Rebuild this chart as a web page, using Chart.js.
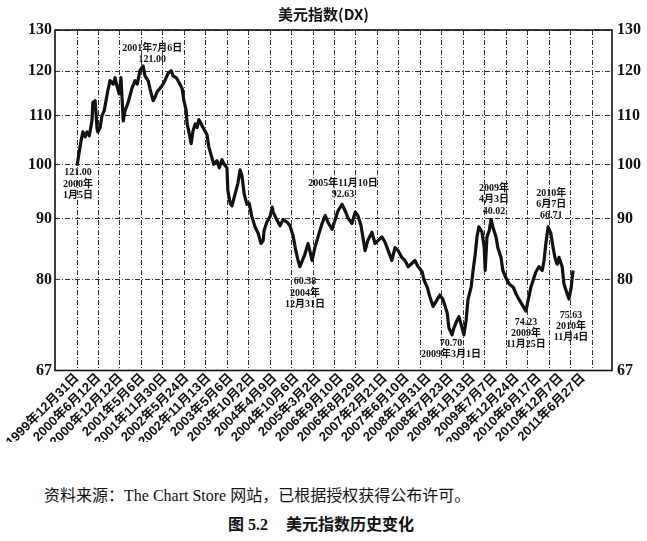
<!DOCTYPE html>
<html>
<head>
<meta charset="utf-8">
<script src="https://cdn.jsdelivr.net/npm/chart.js@4.4.1/dist/chart.umd.min.js"></script>
<style>
  body { margin: 0; background: #fff; }
  #wrap { position: relative; width: 647px; height: 541px; }
  #box { position: absolute; left: 0; top: 0; width: 647px; height: 442px; }
  .cap { position: absolute; white-space: nowrap; color: #111; }
  #source { left: 44px; top: 482px; font: 16px "Liberation Serif", "Noto Sans CJK SC"; }
  #figure { left: 228px; top: 511px; font: bold 16px "Liberation Serif", "Noto Sans CJK SC"; }
</style>
</head>
<body>
<div id="wrap">
  <div id="box"><canvas id="dxChart"></canvas></div>
  <div class="cap" id="source">资料来源：The Chart Store 网站，已根据授权获得公布许可。</div>
  <div class="cap" id="figure">图 5.2<span style="margin-left:18px">美元指数历史变化</span></div>
</div>
<script>
// decimal years and index values
const years = [
  2000.00, 2000.04, 2000.09, 2000.13, 2000.18, 2000.22, 2000.27, 2000.33, 2000.35, 2000.40,
  2000.44, 2000.46, 2000.51, 2000.55, 2000.60, 2000.64, 2000.68, 2000.73, 2000.80, 2000.84,
  2000.88, 2000.93, 2000.97, 2001.02, 2001.06, 2001.13, 2001.21, 2001.28, 2001.33, 2001.39,
  2001.46, 2001.50, 2001.57, 2001.61, 2001.68, 2001.72, 2001.77, 2001.83, 2001.90, 2001.94,
  2002.01, 2002.08, 2002.12, 2002.19, 2002.23, 2002.32, 2002.36, 2002.41, 2002.43, 2002.47,
  2002.52, 2002.56, 2002.61, 2002.65, 2002.69, 2002.76, 2002.80, 2002.87, 2002.91, 2002.98,
  2003.02, 2003.09, 2003.14, 2003.20, 2003.25, 2003.31,
  2003.33, 2003.38, 2003.42, 2003.49, 2003.55, 2003.60, 2003.64, 2003.69, 2003.75, 2003.80,
  2003.86, 2003.93, 2004.00, 2004.06, 2004.11, 2004.13, 2004.19, 2004.26, 2004.31, 2004.33,
  2004.42, 2004.48, 2004.55, 2004.64, 2004.70, 2004.77, 2004.83, 2004.88,
  2004.92, 2005.03, 2005.10, 2005.19, 2005.25, 2005.32, 2005.41, 2005.48, 2005.54, 2005.63,
  2005.70, 2005.76, 2005.85, 2005.92, 2005.98, 2006.07, 2006.14, 2006.20, 2006.27, 2006.31,
  2006.36, 2006.42, 2006.51, 2006.58, 2006.65, 2006.73, 2006.80, 2006.87, 2006.95, 2007.02,
  2007.09, 2007.17, 2007.24, 2007.31, 2007.40, 2007.46, 2007.53, 2007.62, 2007.66, 2007.73,
  2007.79, 2007.86, 2007.95, 2008.01, 2008.08, 2008.17, 2008.21, 2008.28, 2008.32, 2008.39,
  2008.43, 2008.50, 2008.54, 2008.59, 2008.63, 2008.70, 2008.74, 2008.79, 2008.83, 2008.87,
  2008.94, 2008.99, 2009.01, 2009.05, 2009.10, 2009.14, 2009.18, 2009.25, 2009.29, 2009.36,
  2009.40, 2009.47, 2009.54, 2009.63, 2009.69, 2009.76, 2009.85, 2009.91, 2009.96, 2010.02,
  2010.07, 2010.13, 2010.20, 2010.27, 2010.31, 2010.35, 2010.40, 2010.46, 2010.51, 2010.55,
  2010.60, 2010.64, 2010.71, 2010.75, 2010.82, 2010.86, 2010.91, 2010.95
];
const dxIndex = [
  99.8, 102, 104.8, 106.6, 105.6, 106.6, 105.8, 108.9, 112.9, 113.3,
  107.5, 106.6, 107.5, 110, 111.1, 113.3, 115.5, 117.8, 117, 118.5,
  116.6, 114.8, 118.5, 108.9, 111.1, 112.9, 116, 117.8, 117, 120.1,
  121.2, 118.9, 117.8, 116, 113.3, 114, 115.3, 116, 117, 117.8,
  119.5, 120.1, 118.9, 118.5, 117.8, 116, 113.3, 111.1, 108.3, 106.6,
  104.2, 106.8, 108.3, 107.5, 109.2, 107.9, 107.2, 106, 103.5, 101.3,
  100.1, 100.8, 99.4, 101, 100.1, 99.4,
  95.1, 92.8, 92.3, 94.5, 96.4, 99, 98, 94.5, 92.6, 92.8,
  90.4, 88.6, 87.5, 85.8, 86.3, 88, 89.4, 90.4, 92.1, 91.2,
  89.7, 88.8, 89.9, 89.4, 88.8, 87.1, 84.6, 83,
  82, 84, 85.8, 83, 85.1, 86.9, 89.2, 90.6, 89.4, 88.2,
  89.9, 91.4, 92.6, 91.4, 90.2, 89.2, 91.2, 90.6, 88.8, 86.9,
  84.6, 86.3, 87.7, 85.8, 86.3, 86.9, 86, 84.6, 83, 85.1,
  84.6, 83.5, 83, 82, 82.6, 83, 82, 81.2, 79.9, 78.8,
  77.3, 75.9, 76.9, 77.6, 76.9, 75, 72.8, 71.8, 72.8, 73.9,
  74.4, 72.8, 71.8, 73.9, 76.9, 78.8, 81.2, 84, 86.9, 88.6,
  87.7, 85.1, 81.4, 86.9, 88, 89.9, 88.6, 86.9, 85.1, 83.5,
  81.4, 80.2, 79.3, 78.8, 77.8, 76.9, 75.9, 75.2, 76.9, 78.8,
  79.9, 81.2, 82, 81.4, 83, 85.8, 88.6, 87.5, 85.1, 83.5,
  82.4, 83.5, 82, 79.3, 77.8, 77, 78.8, 81.4
];
const yTicks = [67, 80, 90, 100, 110, 120, 130];
const dateLabels = [
  '1999年12月31日', '2000年6月12日', '2000年12月12日', '2001年5月6日', '2001年11月30日',
  '2002年5月24日', '2002年11月13日', '2003年5月6日', '2003年10月2日', '2004年4月9日',
  '2004年10月6日', '2005年3月2日', '2006年9月10日', '2006年8月29日', '2007年2月21日',
  '2007年6月10日', '2008年1月31日', '2008年7月23日', '2009年1月13日', '2009年7月7日',
  '2009年12月24日', '2010年6月17日', '2010年12月7日', '2011年6月27日'
];
// callouts printed next to the highs and lows (ox/oy: text offset in px)
const notes = [
  { lines: ['121.00', '2000年', '1月5日'], year: 2000.00, value: 99.8, ox: 1, oy: 7 },
  { lines: ['2001年7月6日', '121.00'], year: 2001.46, value: 121.2, ox: 9, oy: -18 },
  { lines: ['60.38', '2004年', '12月31日'], year: 2004.92, value: 82, ox: 5, oy: 15 },
  { lines: ['2005年11月10日', '92.63'], year: 2005.85, value: 92.6, ox: 1, oy: -21 },
  { lines: ['70.70', '2009年3月1日'], year: 2008.28, value: 71.8, ox: -1, oy: 8 },
  { lines: ['2009年', '4月3日', '40.02'], year: 2009.14, value: 89.9, ox: 3, oy: -31 },
  { lines: ['2010年', '6月7日', '66.71'], year: 2010.40, value: 88.6, ox: 3, oy: -34 },
  { lines: ['74.23', '2009年', '11月25日'], year: 2009.91, value: 75.2, ox: 0, oy: 11 },
  { lines: ['75.63', '2010年', '11月4日'], year: 2010.86, value: 77, ox: 2, oy: 16 }
];

const xMin = 1999.514, xMax = 2011.81;
const gridStep = 0.4737, labelStep = 0.4857;
const dash = [5, 2, 1, 2];
const tickFont = { family: '"Liberation Serif", serif', size: 16, weight: 'bold' };

const framePlugin = {
  id: 'frame',
  afterDraw(chart) {
    const { ctx, chartArea: a } = chart;
    ctx.save();
    ctx.strokeStyle = '#111';
    ctx.lineWidth = 1.6;
    ctx.strokeRect(a.left, a.top, a.right - a.left, a.bottom - a.top);
    ctx.restore();
  }
};

const notesPlugin = {
  id: 'notes',
  afterDatasetsDraw(chart) {
    const { ctx, scales } = chart;
    ctx.save();
    ctx.fillStyle = '#111';
    ctx.font = 'bold 10px "Liberation Serif", "Noto Sans CJK SC"';
    ctx.textAlign = 'center';
    ctx.textBaseline = 'middle';
    notes.forEach(n => {
      const px = scales.x.getPixelForValue(n.year) + n.ox;
      const py = scales.y.getPixelForValue(n.value) + n.oy;
      n.lines.forEach((t, i) => ctx.fillText(t, px, py + i * 11.3));
    });
    ctx.restore();
  }
};

new Chart(document.getElementById('dxChart'), {
  type: 'line',
  data: {
    datasets: [{
      data: years.map((t, i) => ({ x: t, y: dxIndex[i] })),
      borderColor: '#111',
      borderWidth: 3.2,
      pointRadius: 0,
      tension: 0,
      borderJoinStyle: 'round',
      xAxisID: 'x',
      yAxisID: 'y'
    }]
  },
  options: {
    responsive: true,
    maintainAspectRatio: false,
    animation: false,
    devicePixelRatio: 1,
    layout: { padding: 0 },
    plugins: {
      legend: { display: false },
      tooltip: { enabled: false },
      title: {
        display: true,
        text: '美元指数(DX)',
        color: '#111',
        font: { family: '"Noto Sans CJK SC"', size: 15, weight: 'bold' },
        padding: { top: 5, bottom: 7 }
      }
    },
    scales: {
      x: {
        type: 'linear', min: xMin, max: xMax,
        afterBuildTicks: s => { s.ticks = Array.from({ length: 25 }, (_, i) => ({ value: 2000 + i * gridStep })); },
        ticks: { display: false },
        grid: { color: '#333', lineWidth: 1, drawTicks: false },
        border: { display: false, dash: dash }
      },
      xl: {
        type: 'linear', position: 'bottom', min: xMin, max: xMax,
        afterBuildTicks: s => { s.ticks = dateLabels.map((_, i) => ({ value: 2000 + i * labelStep })); },
        ticks: {
          autoSkip: false, minRotation: 45, maxRotation: 45, padding: -8, color: '#111',
          font: { family: '"Liberation Sans", "Noto Sans CJK SC"', size: 13, weight: 'bold' },
          callback: (v, i) => dateLabels[i]
        },
        grid: { display: false },
        border: { display: false }
      },
      y: {
        type: 'logarithmic', position: 'left', min: 67, max: 130,
        afterBuildTicks: s => { s.ticks = yTicks.map(v => ({ value: v })); },
        afterFit: s => { s.width = 55; },
        ticks: { color: '#111', font: tickFont, padding: 3, callback: v => String(v) },
        grid: { color: '#333', lineWidth: 1, drawTicks: false },
        border: { display: false, dash: dash }
      },
      y2: {
        type: 'logarithmic', position: 'right', min: 67, max: 130,
        afterBuildTicks: s => { s.ticks = yTicks.map(v => ({ value: v })); },
        afterFit: s => { s.width = 35; },
        ticks: { color: '#111', font: tickFont, padding: 5, callback: v => String(v) },
        grid: { display: false, drawTicks: false },
        border: { display: false }
      }
    }
  },
  plugins: [framePlugin, notesPlugin]
});
</script>
</body>
</html>
